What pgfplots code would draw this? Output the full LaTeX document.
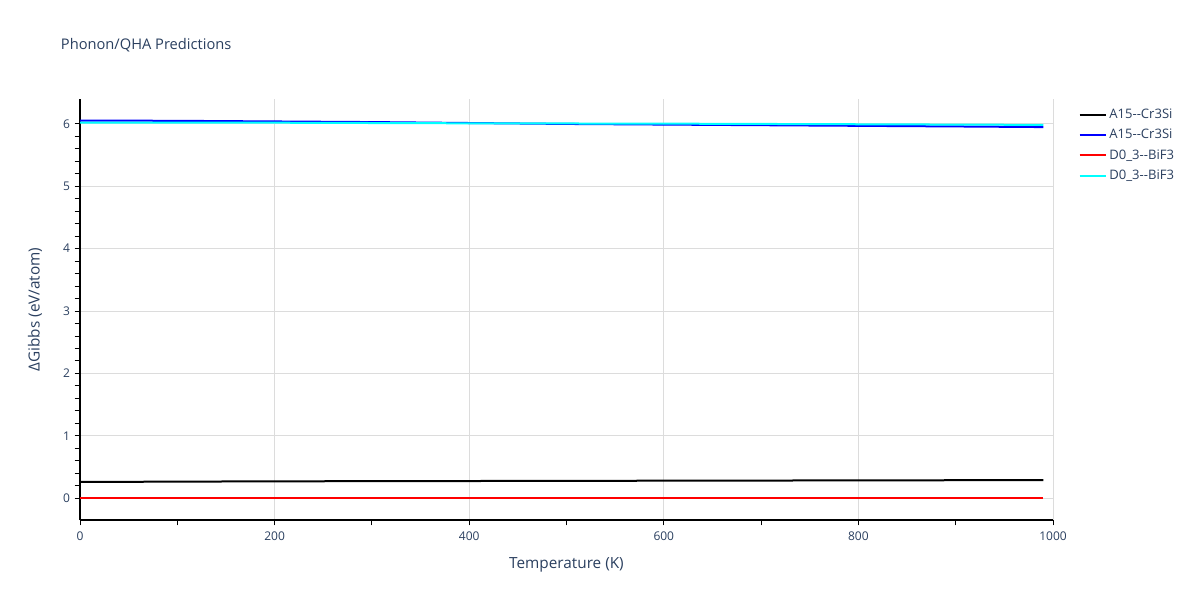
\documentclass[border=0pt]{standalone}
\usepackage{pgfplots}
\pgfplotsset{compat=1.18}
\usepackage{fontspec}
\setmainfont{Open Sans}
\definecolor{txt}{HTML}{2A3F5F}
\definecolor{gridc}{HTML}{DCDCDC}
\definecolor{cyanp}{RGB}{0,255,255}
\definecolor{bluep}{RGB}{0,0,255}
\definecolor{redp}{RGB}{255,0,0}
\begin{document}
\begin{tikzpicture}[x=1pt,y=1pt]
\path[use as bounding box] (0,0) rectangle (900,450);
\node[anchor=west,text=txt,font=\fontsize{11}{13}\selectfont,inner sep=0pt] at (45.5,416) {Phonon/QHA Predictions};
\begin{axis}[
  at={(60pt,60pt)}, anchor=south west,
  scale only axis, width=729.75pt, height=315.75pt,
  xmin=0, xmax=1000, ymin=-0.35, ymax=6.4,
  axis x line*=bottom, axis y line*=left,
  axis line style={black, line width=0.8pt},
  xtick={0,200,...,1000}, ytick={0,1,...,6},
  minor x tick num=1, minor y tick num=4,
  tick align=outside, tick pos=left,
  major tick length=4pt, minor tick length=4pt,
  every tick/.style={black, line width=0.7pt},
  grid=major, major grid style={gridc, line width=0.7pt},
  /pgf/number format/assume math mode=true,
  /pgf/number format/1000 sep={},
  ticklabel style={font=\fontsize{9}{11}\selectfont, text=txt},
  xticklabel style={yshift=-1.5pt},
  xlabel={Temperature (K)}, ylabel={ΔGibbs (eV/atom)},
  label style={font=\fontsize{11.5}{13}\selectfont, text=txt},
  xlabel style={yshift=-6pt},
  ylabel style={yshift=9pt},
  legend style={at={(1.022,0.99)}, anchor=north west, draw=none, fill=none,
    font=\fontsize{9.8}{11}\selectfont, text=txt, row sep=2.6pt},
  legend cell align=left,
  legend image code/.code={\draw[#1, line width=1.5pt] (0pt,0pt) -- (19.5pt,0pt);},
]
\addplot[black, line width=1.5pt] coordinates {(0,0.26) (200,0.27) (400,0.275) (600,0.28) (800,0.285) (990,0.29)};
\addlegendentry{A15-{}-Cr3Si}
\addplot[bluep, line width=1.5pt] coordinates {(0,6.055) (100,6.05) (200,6.04) (300,6.03) (400,6.015) (500,6.0) (600,5.99) (700,5.98) (800,5.97) (900,5.96) (990,5.95)};
\addlegendentry{A15-{}-Cr3Si}
\addplot[redp, line width=1.5pt] coordinates {(0,0) (200,0) (400,0) (600,0) (800,0) (990,0)};
\addlegendentry{D0\_3-{}-BiF3}
\addplot[cyanp, line width=1.5pt] coordinates {(0,6.02) (200,6.02) (400,6.01) (600,6.005) (800,5.995) (990,5.985)};
\addlegendentry{D0\_3-{}-BiF3}
\end{axis}
\end{tikzpicture}
\end{document}
